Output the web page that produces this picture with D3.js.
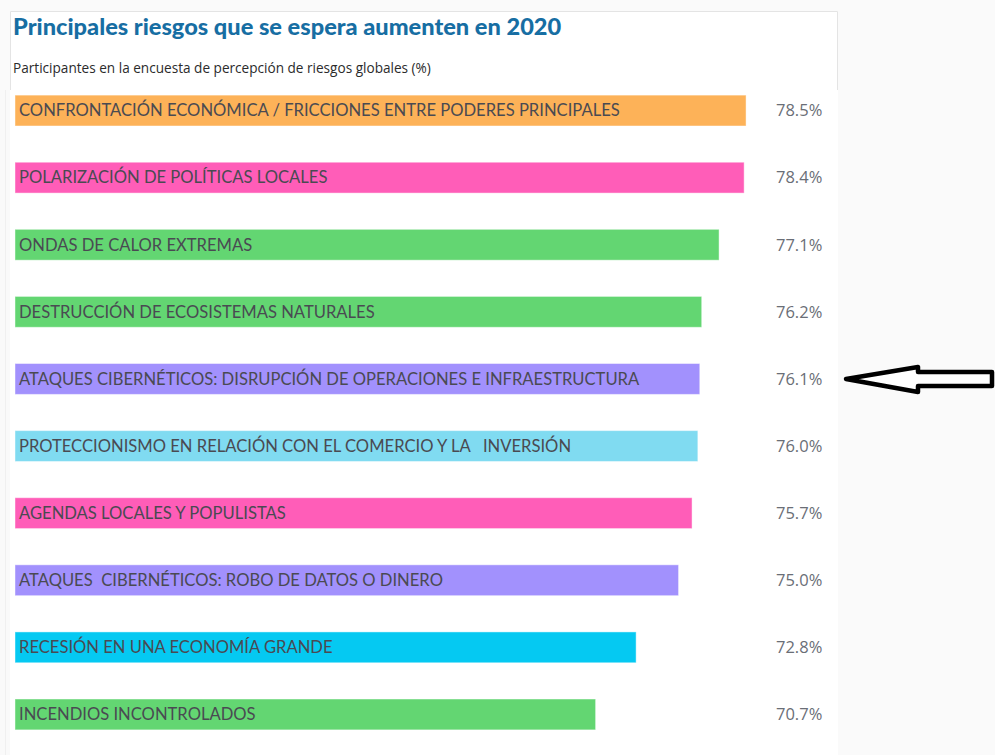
<!DOCTYPE html>
<html>
<head>
<meta charset="utf-8">
<script src="https://cdn.jsdelivr.net/npm/d3@7/dist/d3.min.js"></script>
<style>
  html, body { margin: 0; padding: 0; background: #fafafa; }
  svg { display: block; }
</style>
</head>
<body>
<svg id="chart" width="995" height="755"></svg>
<script>
// Riesgos principales y porcentaje de participantes
const categories = [
  "CONFRONTACIÓN ECONÓMICA / FRICCIONES ENTRE PODERES PRINCIPALES",
  "POLARIZACIÓN DE POLÍTICAS LOCALES",
  "ONDAS DE CALOR EXTREMAS",
  "DESTRUCCIÓN DE ECOSISTEMAS NATURALES",
  "ATAQUES CIBERNÉTICOS: DISRUPCIÓN DE OPERACIONES E INFRAESTRUCTURA",
  "PROTECCIONISMO EN RELACIÓN CON EL COMERCIO Y LA \u00a0 INVERSIÓN",
  "AGENDAS LOCALES Y POPULISTAS",
  "ATAQUES \u00a0CIBERNÉTICOS: ROBO DE DATOS O DINERO",
  "RECESIÓN EN UNA ECONOMÍA GRANDE",
  "INCENDIOS INCONTROLADOS"
];
const values = [78.5, 78.4, 77.1, 76.2, 76.1, 76.0, 75.7, 75.0, 72.8, 70.7];
const groups = ["geo", "soc", "env", "env", "tec", "eco", "soc", "tec", "eco2", "env"];
const groupColors = {
  geo: "#fdb258", soc: "#ff5db8", env: "#63d672",
  tec: "#a291fd", eco: "#80dbf1", eco2: "#05c9f2"
};
const title = "Principales riesgos que se espera aumenten en 2020";
const subtitle = "Participantes en la encuesta de percepción de riesgos globales (%)";
const highlighted = 4;

const svg = d3.select("#chart");

// panel
svg.append("rect").attr("x", 10).attr("y", 11).attr("width", 828).attr("height", 744).attr("fill", "#ffffff");
svg.append("line").attr("x1", 5.5).attr("x2", 5.5).attr("y1", 90).attr("y2", 755)
  .attr("stroke", "#f0f0f0").attr("stroke-width", 1);
svg.append("path")
  .attr("d", "M10.5,90 V11.5 H837.5 V90")
  .attr("fill", "none").attr("stroke", "#e4e4e4").attr("stroke-width", 1);

svg.append("text").attr("x", 13).attr("y", 35)
  .attr("font-family", "Lato, 'Open Sans', sans-serif").attr("font-weight", 900)
  .attr("font-size", 23.6).attr("fill", "#176ea3").text(title);
svg.append("text").attr("x", 13).attr("y", 73)
  .attr("font-family", "'Open Sans', sans-serif")
  .attr("font-size", 13.6).attr("fill", "#2b2b2b").text(subtitle);

const x = d3.scaleLinear().domain([40.6, 80]).range([15, 775]);
const y = d3.scaleBand().domain(d3.range(categories.length)).range([77, 748]).paddingInner(0.54).paddingOuter(0.27);

const rows = svg.append("g").selectAll("g").data(values).join("g")
  .attr("transform", (d, i) => `translate(0,${y(i)})`);

rows.append("rect")
  .attr("x", x(40.6)).attr("width", d => x(d) - x(40.6))
  .attr("height", y.bandwidth())
  .attr("fill", (d, i) => groupColors[groups[i]])
  .attr("stroke", "rgba(255,255,255,0.45)").attr("stroke-width", 1);

rows.append("text")
  .attr("x", 19).attr("y", y.bandwidth() / 2).attr("dy", "0.35em")
  .attr("font-family", "Lato, sans-serif").attr("font-size", 16.6)
  .attr("fill", "#4a4a52").text((d, i) => categories[i]);

rows.append("text")
  .attr("x", 776).attr("y", y.bandwidth() / 2).attr("dy", "0.35em")
  .attr("font-family", "'Open Sans', sans-serif").attr("font-size", 16.5)
  .attr("fill", "#6a6e76").text(d => d.toFixed(1) + "%");

// arrow pointing at the highlighted risk
const ay = y(highlighted) + y.bandwidth() / 2;
svg.append("path")
  .attr("d", `M846,${ay} L918,${ay - 12} L918,${ay - 7} L992,${ay - 7} L992,${ay + 7} L918,${ay + 7} L918,${ay + 13} Z`)
  .attr("fill", "#ffffff").attr("stroke", "#000000").attr("stroke-width", 4.5)
  .attr("stroke-linejoin", "round");
</script>
</body>
</html>
